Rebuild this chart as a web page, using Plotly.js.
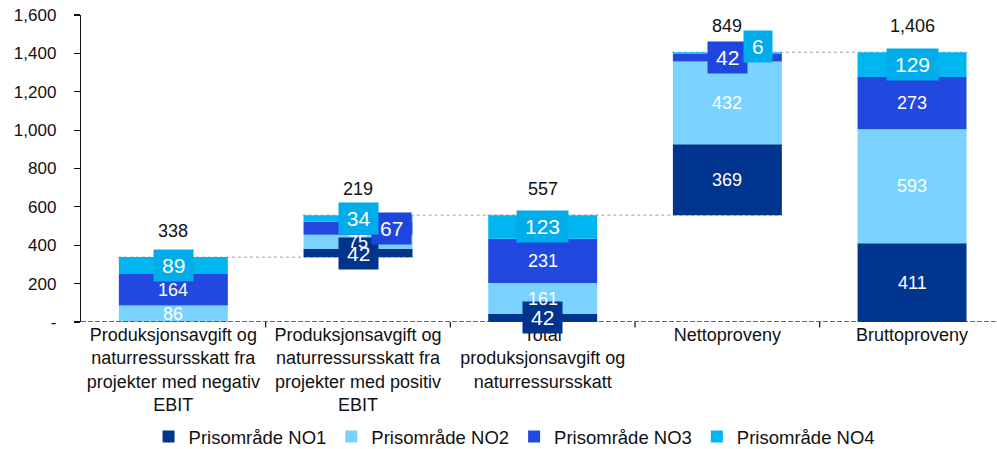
<!DOCTYPE html>
<html>
<head>
<meta charset="utf-8">
<script src="https://cdn.plot.ly/plotly-3.0.1.min.js"></script>
<style>
  html, body { margin: 0; padding: 0; background: #fff; }
  #chart { width: 997px; height: 449px; }
</style>
</head>
<body>
<div id="chart"></div>
<script>
// Categories along the x axis
const categories = [
  'Produksjonsavgift og<br>naturressursskatt fra<br>projekter med negativ<br>EBIT',
  'Produksjonsavgift og<br>naturressursskatt fra<br>projekter med positiv<br>EBIT',
  'Total<br>produksjonsavgift og<br>naturressursskatt',
  'Nettoproveny',
  'Bruttoproveny'
];

// Values per price area
const seriesNames = ['Prisområde NO1', 'Prisområde NO2', 'Prisområde NO3', 'Prisområde NO4'];
const no1 = [0, 42, 42, 369, 411];
const no2 = [86, 75, 161, 432, 593];
const no3 = [164, 67, 231, 42, 273];
const no4 = [89, 34, 123, 6, 129];

// Column totals and waterfall step type
const totals = [338, 219, 557, 849, 1406];
const measures = ['relative', 'relative', 'total', 'relative', 'total'];

// Y axis ticks
const yTickVals = [0, 200, 400, 600, 800, 1000, 1200, 1400, 1600];
const yTickText = ['-', '200', '400', '600', '800', '1,000', '1,200', '1,400', '1,600'];

// ---- styling ----
const barColors = ['#00358F', '#7AD3FF', '#2249DF', '#00B6F0'];
const boxColors = ['#00338C', '#7AD3FF', '#1F45DF', '#00ACEA'];
const FONT = 'Liberation Sans, Arial, sans-serif';
const BAR_W = 0.59;

// which labels sit in a filled box, and per-label nudges in px [dx, dy]
const boxed = [
  [false, true, true, false, false],
  [false, false, false, false, false],
  [false, true, false, true, false],
  [true, true, true, true, true]
];
const nudges = { '2,1': [33, 0], '3,3': [31, 6] };

const values = [no1, no2, no3, no4];
const xIdx = categories.map((_, i) => i);

// base of each column from the running waterfall level
const bases = [];
let level = 0;
totals.forEach((t, i) => {
  if (measures[i] === 'total') { bases.push(0); level = t; }
  else { bases.push(level); level += t; }
});

// stacked segments: each series starts where the previous ones end
const segStart = values.map((_, s) =>
  xIdx.map(i => bases[i] + values.slice(0, s).reduce((a, v) => a + v[i], 0)));

const traces = values.map((vals, s) => ({
  type: 'bar',
  name: seriesNames[s],
  x: xIdx,
  y: vals,
  base: segStart[s],
  width: BAR_W,
  marker: { color: barColors[s], line: { width: 0 } },
  hoverinfo: 'name+y'
}));

// connectors between consecutive column levels
const shapes = [];
let run = 0;
for (let i = 0; i < totals.length - 1; i++) {
  run = measures[i] === 'total' ? totals[i] : bases[i] + totals[i];
  shapes.push({
    type: 'line', layer: 'below', xref: 'x', yref: 'y',
    x0: i - 0.3, x1: i + 1 + 0.3, y0: run, y1: run,
    line: { color: '#a0a0a0', width: 1, dash: 'dot' }
  });
}
// dashed category axis line
shapes.push({
  type: 'line', xref: 'paper', yref: 'y', x0: 0, x1: 1, y0: 0, y1: 0,
  line: { color: '#3a3a3a', width: 1.6, dash: '5px,2px' }
});
// category boundary tick marks below the axis line
for (let i = 1; i <= categories.length; i++) {
  shapes.push({
    type: 'line', xref: 'x', yref: 'paper', x0: i - 0.5, x1: i - 0.5,
    y0: 0, y1: -0.018, line: { color: '#111111', width: 1.2 }
  });
}

// segment labels, in series order (later series drawn on top)
const annotations = [];
values.forEach((vals, s) => {
  vals.forEach((v, i) => {
    if (!v) return;
    const mid = segStart[s][i] + v / 2;
    const nd = nudges[s + ',' + i] || [0, 0];
    const txt = String(v);
    if (boxed[s][i]) {
      annotations.push({
        x: i, y: mid, xref: 'x', yref: 'y', text: txt, showarrow: false,
        xshift: nd[0], yshift: nd[1],
        font: { family: FONT, size: 21, color: '#ffffff' },
        bgcolor: boxColors[s], width: txt.length * 11.7 + 16, height: 31,
        borderpad: 0, align: 'center', valign: 'middle'
      });
    } else {
      annotations.push({
        x: i, y: mid, xref: 'x', yref: 'y', text: txt, showarrow: false,
        font: { family: FONT, size: 18, color: '#ffffff' }
      });
    }
  });
});

// totals above columns
totals.forEach((t, i) => {
  annotations.push({
    x: i, y: bases[i] + values.reduce((a, v) => a + v[i], 0), xref: 'x', yref: 'y',
    text: t.toLocaleString('en-US'), showarrow: false, yanchor: 'bottom', yshift: 14,
    font: { family: FONT, size: 18, color: '#111111' }
  });
});

const layout = {
  width: 997, height: 449,
  margin: { l: 81, r: 0, t: 15, b: 127, pad: 0 },
  paper_bgcolor: '#ffffff', plot_bgcolor: '#ffffff',
  barmode: 'overlay',
  font: { family: FONT, color: '#111111' },
  showlegend: true,
  legend: {
    orientation: 'h', xref: 'container', yref: 'container',
    x: 0.149, y: 0.027, xanchor: 'left', yanchor: 'middle',
    font: { family: FONT, size: 18.5, color: '#111111' },
    itemwidth: 30, tracegroupgap: 0,
    itemclick: false, itemdoubleclick: false
  },
  xaxis: {
    type: 'linear', range: [-0.5, 4.46],
    tickmode: 'array', tickvals: xIdx, ticktext: categories,
    showgrid: false, zeroline: false, showline: false,
    ticks: '', tickfont: { family: FONT, size: 18, color: '#111111' },
    fixedrange: true
  },
  yaxis: {
    range: [0, 1600], tickmode: 'array', tickvals: yTickVals, ticktext: yTickText,
    showgrid: false, zeroline: false, showline: true, linecolor: '#111111', linewidth: 1.2,
    ticks: 'outside', ticklen: 6, tickcolor: '#111111', tickwidth: 1.2,
    ticklabelstandoff: 14,
    tickfont: { family: FONT, size: 17, color: '#111111' },
    fixedrange: true
  },
  shapes: shapes,
  annotations: annotations
};

Plotly.newPlot('chart', traces, layout, { staticPlot: true, displayModeBar: false });
</script>
</body>
</html>
